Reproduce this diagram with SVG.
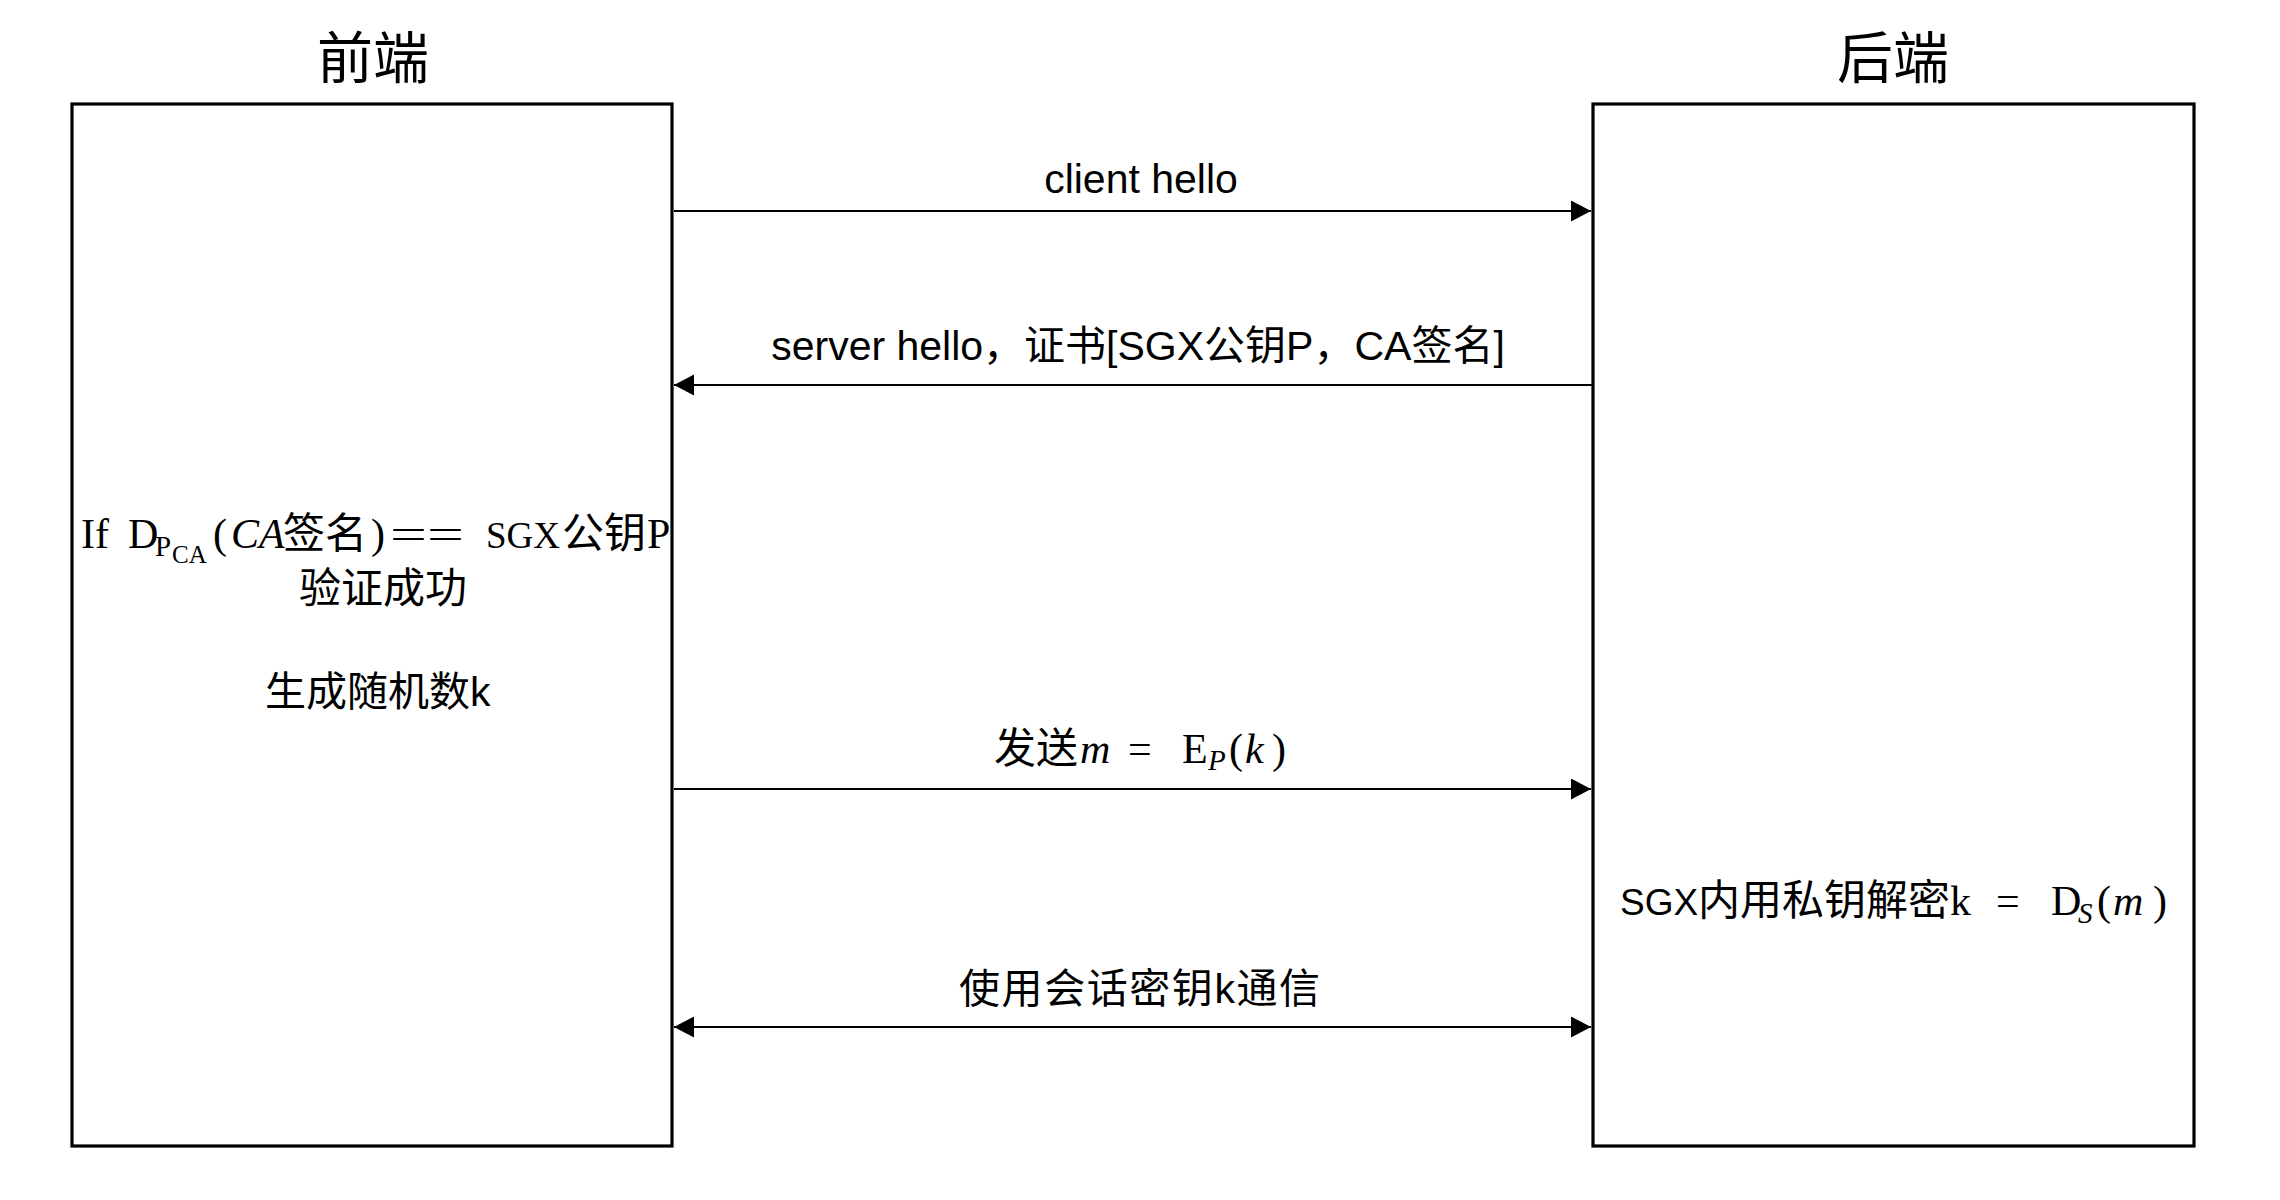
<svg xmlns="http://www.w3.org/2000/svg" width="2280" height="1200" viewBox="0 0 2280 1200">
<style>
.box{fill:#fff;stroke:#000;stroke-width:3.2}
.ln{stroke:#000;stroke-width:2.2;fill:none}
.t{font-family:"Liberation Sans","Noto Sans CJK SC",sans-serif;font-size:41px;fill:#000}
.c{font-family:"Noto Sans CJK SC",sans-serif;font-size:42px;fill:#000}
.m{font-family:"Liberation Serif","Noto Sans CJK SC",serif;font-size:42px;fill:#000}
.h{font-family:"Noto Sans CJK SC",sans-serif;font-size:56px;fill:#000;text-anchor:middle}
.i{font-style:italic}
</style>
<defs>
<marker id="ae" markerUnits="userSpaceOnUse" markerWidth="21" markerHeight="22" refX="20" refY="10.5" orient="auto">
<path d="M0,0 L20,10.5 L0,21 z" fill="#000"/>
</marker>
<marker id="as" markerUnits="userSpaceOnUse" markerWidth="21" markerHeight="22" refX="0" refY="10.5" orient="auto">
<path d="M20,0 L0,10.5 L20,21 z" fill="#000"/>
</marker>
</defs>
<rect width="2280" height="1200" fill="#fff"/>
<g id="frontend">
<text class="h" x="373" y="78">前端</text>
<rect class="box" x="72" y="104" width="600" height="1042"/>
<text class="m" y="548"><tspan x="81">If</tspan><tspan x="128">D</tspan><tspan x="155" dy="8" font-size="29">P</tspan><tspan x="172" dy="7" font-size="25">CA</tspan><tspan x="213" dy="-15">(</tspan><tspan x="231" class="i">CA</tspan><tspan x="283" font-family="Noto Sans CJK SC">签名</tspan><tspan x="371">)</tspan><tspan x="390" textLength="74" lengthAdjust="spacingAndGlyphs">==</tspan><tspan x="486" font-size="37">SGX</tspan><tspan x="562" font-family="Noto Sans CJK SC">公钥</tspan><tspan x="647">P</tspan></text>
<text class="c" x="299" y="603">验证成功</text>
<text class="t" x="265" y="706" font-size="42">生成随机数k</text>
</g>
<g id="backend">
<text class="h" x="1893" y="78">后端</text>
<rect class="box" x="1593" y="104" width="601" height="1042"/>
<text class="t" y="915"><tspan x="1620" font-size="37">SGX</tspan><tspan x="1698" font-size="42">内用私钥解密</tspan></text>
<text class="m" y="915"><tspan x="1950">k</tspan><tspan x="1996">=</tspan><tspan x="2051">D</tspan><tspan x="2078" dy="8" font-size="29" class="i">S</tspan><tspan x="2097" dy="-8">(</tspan><tspan x="2113" class="i">m</tspan><tspan x="2153">)</tspan></text>
</g>
<g id="connectors">
<line class="ln" x1="674" y1="211" x2="1591" y2="211" marker-end="url(#ae)"/>
<line class="ln" x1="1592" y1="385" x2="674" y2="385" marker-end="url(#ae)"/>
<line class="ln" x1="674" y1="789" x2="1591" y2="789" marker-end="url(#ae)"/>
<line class="ln" x1="674" y1="1027" x2="1591" y2="1027" marker-start="url(#as)" marker-end="url(#ae)"/>
</g>
<g id="labels">
<text class="t" x="1141" y="193" text-anchor="middle">client hello</text>
<text class="t" x="1138" y="360" text-anchor="middle">server hello，证书[SGX公钥P，CA签名]</text>
<text class="c" y="763"><tspan x="994">发送</tspan></text>
<text class="m" y="763"><tspan x="1080" class="i">m</tspan><tspan x="1128">=</tspan><tspan x="1182">E</tspan><tspan x="1208" dy="7" font-size="29" class="i">P</tspan><tspan x="1229" dy="-7">(</tspan><tspan x="1245" class="i">k</tspan><tspan x="1272">)</tspan></text>
<text class="t" x="959" y="1003" textLength="361" lengthAdjust="spacing">使用会话密钥k通信</text>
</g>
</svg>
